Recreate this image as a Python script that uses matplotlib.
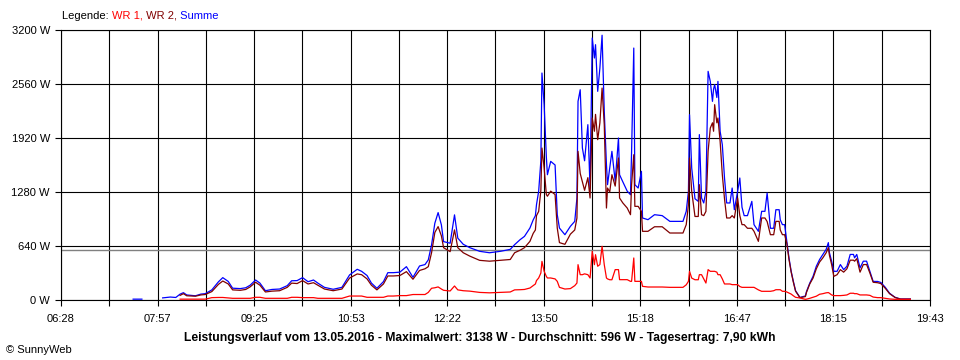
import numpy as np
import matplotlib.pyplot as plt

times = [
    "07:34", "07:42", "07:43", "08:01", "08:08", "08:13", "08:17", "08:20", "08:23", "08:31",
    "08:36", "08:40", "08:46", "08:52", "08:56", "09:01", "09:05", "09:12", "09:17", "09:21",
    "09:26", "09:30", "09:35", "09:41", "09:48", "09:55", "09:59", "10:04", "10:09", "10:14",
    "10:19", "10:23", "10:29", "10:37", "10:45", "10:52", "10:59", "11:03", "11:08", "11:12",
    "11:17", "11:23", "11:27", "11:32", "11:38", "11:44", "11:50", "11:56", "12:01", "12:04",
    "12:07", "12:10", "12:13", "12:16", "12:18", "12:24", "12:28", "12:31", "12:36", "12:42",
    "12:51", "13:00", "13:10", "13:19", "13:23", "13:28", "13:32", "13:37", "13:40", "13:42",
    "13:43", "13:45", "13:47", "13:48", "13:50", "13:52", "13:53", "13:56", "14:00", "14:02",
    "14:04", "14:09", "14:14", "14:18", "14:20", "14:21", "14:23", "14:25", "14:27", "14:30",
    "14:32", "14:34", "14:36", "14:37", "14:39", "14:41", "14:43", "14:45", "14:47", "14:48",
    "14:50", "14:52", "14:55", "14:58", "14:59", "15:02", "15:06", "15:09", "15:10", "15:12",
    "15:13", "15:16", "15:19", "15:20", "15:25", "15:31", "15:38", "15:45", "15:52", "15:57",
    "16:00", "16:02", "16:03", "16:05", "16:08", "16:11", "16:12", "16:14", "16:16", "16:18",
    "16:20", "16:22", "16:24", "16:25", "16:26", "16:28", "16:29", "16:31", "16:33", "16:35",
    "16:37", "16:40", "16:42", "16:44", "16:47", "16:49", "16:51", "16:53", "16:56", "17:00",
    "17:02", "17:06", "17:09", "17:12", "17:14", "17:17", "17:20", "17:22", "17:25", "17:26",
    "17:28", "17:30", "17:32", "17:34", "17:36", "17:38", "17:40", "17:44", "17:49", "17:50",
    "17:53", "17:56", "17:59", "18:02", "18:05", "18:08", "18:10", "18:11", "18:13", "18:15",
    "18:18", "18:21", "18:24", "18:27", "18:30", "18:33", "18:34", "18:36", "18:39", "18:42",
    "18:45", "18:48", "18:51", "18:55", "18:58", "19:02", "19:06", "19:11", "19:16", "19:25",
]

nan = np.nan

summe = [
    10, 10, nan, 25, 35, 30, 70, 87, 60, 50,
    70, 75, 120, 215, 265, 220, 140, 135, 145, 175,
    237, 200, 110, 125, 130, 170, 228, 230, 265, 217,
    237, 200, 150, 127, 150, 297, 364, 340, 290, 200,
    139, 218, 324, 324, 330, 395, 269, 403, 420, 475,
    653, 910, 1036, 890, 692, 673, 1009, 733, 660, 620,
    577, 560, 577, 600, 656, 715, 754, 853, 950, 1000,
    1130, 1290, 1650, 2690, 2315, 1700, 1485, 1643, 1600, 1011,
    853, 774, 873, 932, 1209, 2354, 2492, 1801, 1650, 2078,
    1327, 3105, 2868, 3026, 2473, 2749, 3138, 2236, 1604, 1367,
    1564, 1762, 1406, 1920, 1485, 1400, 1290, 1248, 1762, 2986,
    1367, 1327, 1525, 972, 952, 1011, 1000, 932, 932, 932,
    1051, 1288, 2196, 1564, 1200, 1169, 1960, 1209, 1150, 1288,
    2710, 2591, 2354, 2500, 2552, 2400, 2591, 1999, 1841, 1446,
    1150, 1150, 1327, 1070, 1288, 1446, 1100, 1000, 1000, 1169,
    893, 814, 1051, 1051, 1268, 850, 850, 1070, 1070, 950,
    893, 893, 695, 498, 340, 221, 110, 30, 48, 100,
    200, 280, 400, 480, 540, 600, 680, 560, 460, 340,
    340, 420, 360, 400, 540, 540, 500, 540, 380, 460,
    460, 340, 220, 220, 208, 152, 80, 32, 12, 12,
]

wr2 = [
    nan, nan, nan, nan, nan, nan, 55, 75, 50, 45,
    60, 65, 100, 185, 225, 190, 120, 115, 125, 155,
    210, 175, 95, 105, 110, 150, 200, 195, 230, 190,
    205, 175, 130, 110, 130, 260, 309, 300, 250, 175,
    120, 190, 285, 285, 290, 336, 246, 350, 370, 395,
    560, 800, 870, 760, 620, 573, 831, 620, 560, 520,
    470, 460, 470, 480, 560, 590, 620, 695, 790, 830,
    1000, 1050, 1300, 1801, 1564, 1250, 1230, 1290, 1250, 853,
    680, 660, 780, 830, 972, 1762, 1500, 1400, 1300, 1450,
    1209, 2157, 2000, 2200, 1900, 2100, 2512, 2078, 1090, 1327,
    1280, 1485, 1350, 1683, 1209, 1150, 1090, 1011, 1367, 1722,
    1110, 1110, 1050, 814, 814, 868, 868, 794, 794, 794,
    893, 1130, 1683, 1288, 990, 990, 1367, 1011, 1000, 1050,
    1762, 2038, 2100, 2000, 2315, 2100, 2157, 1880, 1485, 1200,
    972, 972, 1000, 972, 1209, 1000, 893, 893, 850, 850,
    814, 695, 972, 972, 930, 774, 774, 932, 932, 830,
    774, 774, 670, 480, 330, 210, 105, 28, 40, 90,
    190, 260, 370, 450, 500, 560, 620, 530, 420, 280,
    300, 360, 330, 370, 472, 472, 460, 490, 330, 420,
    420, 320, 210, 205, 195, 140, 75, 30, 10, 10,
]

wr1 = [
    nan, nan, nan, nan, nan, nan, 10, 10, 10, 10,
    10, 10, 28, 30, 30, 25, 20, 20, 20, 20,
    32, 32, 20, 20, 20, 20, 32, 32, 28, 28,
    28, 20, 20, 20, 20, 47, 47, 47, 32, 32,
    32, 32, 47, 47, 52, 52, 65, 65, 65, 90,
    139, 145, 155, 130, 115, 107, 166, 120, 110, 105,
    90, 85, 90, 95, 120, 122, 125, 142, 170, 190,
    230, 261, 320, 458, 340, 280, 261, 261, 250, 221,
    150, 130, 135, 170, 201, 419, 300, 300, 310, 300,
    261, 577, 419, 537, 400, 420, 636, 419, 261, 250,
    240, 240, 360, 360, 241, 241, 241, 221, 221, 498,
    221, 221, 221, 162, 154, 154, 154, 150, 150, 150,
    180, 221, 340, 260, 240, 240, 300, 300, 250, 201,
    360, 340, 340, 340, 340, 330, 300, 300, 250, 190,
    190, 190, 182, 182, 182, 160, 150, 150, 150, 150,
    150, 120, 103, 103, 103, 103, 110, 122, 122, 122,
    103, 103, 95, 83, 70, 50, 32, 24, 8, 10,
    20, 32, 45, 68, 75, 85, 88, 80, 60, 52,
    52, 52, 55, 60, 80, 80, 75, 75, 60, 60,
    60, 55, 35, 28, 28, 20, 12, 8, 8, 8,
]

y_ticks = [0, 640, 1280, 1920, 2560, 3200]
y_labels = ["0 W", "640 W", "1280 W", "1920 W", "2560 W", "3200 W"]
x_labels = ["06:28", "07:57", "09:25", "10:53", "12:22",
            "13:50", "15:18", "16:47", "18:15", "19:43"]
average_w = 596
title = ("Leistungsverlauf vom 13.05.2016 - Maximalwert: 3138 W - "
         "Durchschnitt: 596 W - Tagesertrag: 7,90 kWh")


def to_minutes(hhmm):
    h, m = hhmm.split(":")
    return int(h) * 60 + int(m)


plt.rcParams["font.family"] = ["Liberation Sans", "DejaVu Sans"]
plt.rcParams["font.size"] = 8

t = np.array([to_minutes(s) for s in times])
start, end = to_minutes(x_labels[0]), to_minutes(x_labels[-1])
grid_x = np.linspace(start, end, 2 * (len(x_labels) - 1) + 1)

fig = plt.figure(figsize=(9.6, 3.6), dpi=100)
ax = fig.add_axes([61 / 960, 60 / 360, 869 / 960, 270 / 360])

ax.plot(t, summe, color="#0000ff", lw=0.9, zorder=3)
ax.plot(t, wr2, color="#800000", lw=0.9, zorder=4)
ax.plot(t, wr1, color="#ff0000", lw=0.9, zorder=5)
ax.axhline(average_w, color="#808080", lw=1.0, zorder=2)

ax.set_xlim(start, end)
ax.set_ylim(y_ticks[0], y_ticks[-1])
ax.set_xticks(grid_x[::2])
ax.set_xticklabels(x_labels)
ax.set_xticks(grid_x[1::2], minor=True)
ax.set_yticks(y_ticks)
ax.set_yticklabels(y_labels)

ax.grid(True, which="both", color="black", lw=0.8, zorder=1)
ax.set_axisbelow(True)
for sp in ax.spines.values():
    sp.set_color("black")
    sp.set_linewidth(0.8)
ax.tick_params(which="both", length=4.5, width=0.8, color="black")
ax.tick_params(axis="y", pad=3.5)
ax.tick_params(axis="x", pad=5.5)

# Legende in bunten Textstücken
leg = fig.text(62 / 960, 1 - 16 / 360, "Legende: ", va="center", ha="left")
prev = leg
for label, col in [("WR 1,", "#ff0000"), (" WR 2,", "#800000"), (" Summe", "#0000ff")]:
    prev = ax.annotate(label, xy=(1, 0.5), xycoords=prev, va="center", ha="left",
                       color=col, annotation_clip=False)

fig.text(0.5, 1 - 338 / 360, title, ha="center", va="center",
         fontweight="bold", fontsize=8.7)
fig.text(6 / 960, 1 - 350 / 360, "\u00a9 SunnyWeb", ha="left", va="center")

fig.savefig("out.png", dpi=100, facecolor="white")
